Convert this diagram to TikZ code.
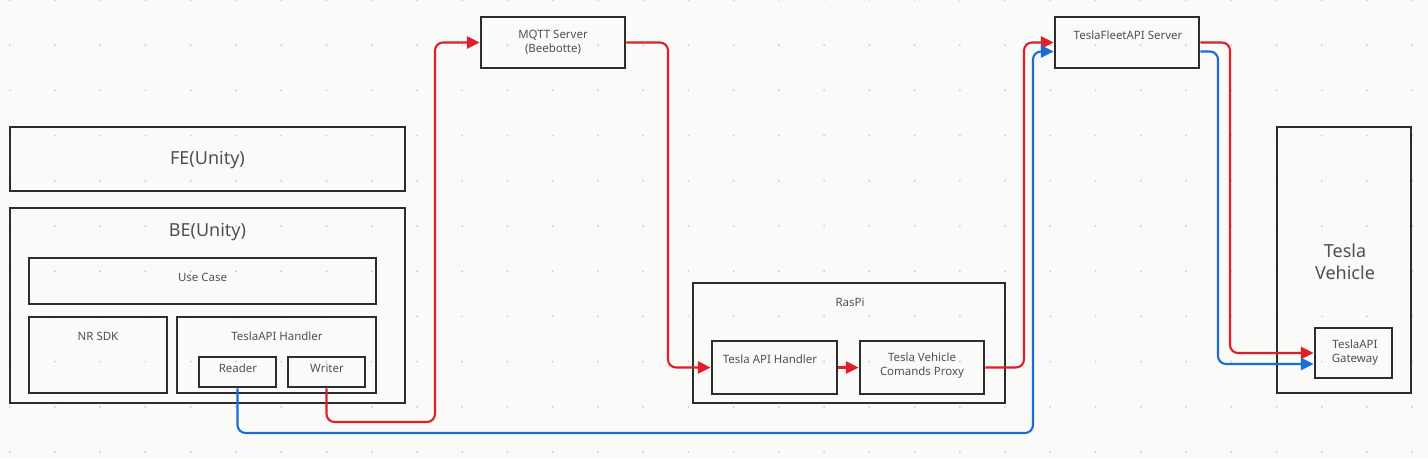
\documentclass[tikz,border=0pt]{standalone}
\usepackage{fontspec}
\setmainfont{Noto Sans}
\usepackage{tikz}
\usetikzlibrary{arrows.meta,calc}

\definecolor{bgc}{RGB}{250,250,248}
\definecolor{dotc}{RGB}{208,208,206}
\definecolor{edgec}{RGB}{45,45,45}
\definecolor{txtc}{RGB}{80,80,80}
\definecolor{redc}{RGB}{222,30,40}
\definecolor{bluec}{RGB}{28,108,214}

\def\px{0.75pt}

\tikzset{
  box/.style={draw=edgec, line width=2.1pt, inner sep=0pt},
  lbl/.style={text=txtc, font=\fontsize{8.6}{10.5}\selectfont, align=center, inner sep=0pt},
  biglbl/.style={text=txtc, font=\fontsize{13.5}{16.5}\selectfont, align=center, inner sep=0pt},
  redline/.style={draw=redc, line width=1.6pt, rounded corners=6pt, -{Triangle[length=9.5pt,width=9pt]}},
  blueline/.style={draw=bluec, line width=1.6pt, rounded corners=6pt, -{Triangle[length=9.5pt,width=9pt]}},
}

\begin{document}
\begin{tikzpicture}[x=0.75pt,y=0.75pt,yscale=-1,xscale=1]
\useasboundingbox[fill=bgc] (0,0) rectangle (1428,458);

%Dot grid
\foreach \i in {0,...,31}
  \foreach \j in {0,...,10}
    \fill[dotc] (9.8+45.24*\i,45.2*\j) circle (1.1);

%Shape: Rectangle [unity side]
\node[box, minimum width=395*\px, minimum height=64*\px] (fe) at (207.5,159) {};
\node[box, minimum width=395*\px, minimum height=195*\px] (be) at (207.5,305.5) {};
\node[box, minimum width=347*\px, minimum height=46*\px] (usecase) at (202.5,281) {};
\node[box, minimum width=138*\px, minimum height=76*\px] (nrsdk) at (98,355) {};
\node[box, minimum width=199*\px, minimum height=76*\px] (apihandler) at (276.5,355) {};
\node[box, minimum width=77*\px, minimum height=30*\px] (reader) at (237.5,372) {};
\node[box, minimum width=77*\px, minimum height=30*\px] (writer) at (326.5,372) {};

%Shape: Rectangle [servers]
\node[box, minimum width=144*\px, minimum height=51*\px] (mqtt) at (553,42.5) {};
\node[box, minimum width=144*\px, minimum height=51*\px] (fleet) at (1127,42.5) {};

%Shape: Rectangle [raspi]
\node[box, minimum width=312*\px, minimum height=120*\px] (raspi) at (849,343) {};
\node[box, minimum width=125*\px, minimum height=53*\px] (piapi) at (774.5,367.5) {};
\node[box, minimum width=124*\px, minimum height=53*\px] (proxy) at (922,367.5) {};

%Shape: Rectangle [vehicle]
\node[box, minimum width=134*\px, minimum height=266*\px] (vehicle) at (1344,260) {};
\node[box, minimum width=77*\px, minimum height=50*\px] (gateway) at (1353.5,353) {};

%Corner points
\coordinate (wturn) at (435,422);
\coordinate (mturn) at (668,200);
\coordinate (pturn) at (1024,200);
\coordinate (fturn) at (1230,200);
\coordinate (rturn) at (1033,433);
\coordinate (bturn) at (1218,200);

%Red lines
\draw[redline] (writer.south) |- (wturn) |- (mqtt.west);
\draw[redline] (mqtt.east) -| (mturn) |- (piapi.west);
\draw[redline] (piapi.east) -- (proxy.west);
\draw[redline] (proxy.east) -| (pturn) |- (fleet.west);
\draw[redline] (fleet.east) -| (fturn) |- (gateway.west);

%Blue lines
\draw[blueline] (reader.south) |- (rturn) |- ($(fleet.west)+(0,9)$);
\draw[blueline] ($(fleet.east)+(0,9)$) -| (bturn) |- ($(gateway.west)+(0,11)$);

% Text Node
\node[biglbl] (felbl) at (207.5,160) {FE(Unity)};
\node[biglbl] (belbl) at (207.5,232) {BE(Unity)};
\node[lbl] (uclbl) at (202.5,277) {Use Case};
\node[lbl] (nrlbl) at (98,336) {NR SDK};
\node[lbl] (ahlbl) at (277,336) {TeslaAPI Handler};
\node[lbl] (rdlbl) at (238,368) {Reader};
\node[lbl] (wrlbl) at (327,368) {Writer};
\node[lbl] (mqlbl) at (553,42) {MQTT Server\\(Beebotte)};
\node[lbl] (rplbl) at (850,302) {RasPi};
\node[lbl] (palbl) at (770,359) {Tesla API Handler};
\node[lbl] (pxlbl) at (922,366) {Tesla Vehicle\\Comands Proxy};
\node[lbl] (fllbl) at (1128,35) {TeslaFleetAPI Server};
\node[biglbl] (vhlbl) at (1345,262) {Tesla\\Vehicle};
\node[lbl] (gwlbl) at (1355,353) {TeslaAPI\\Gateway};

\end{tikzpicture}
\end{document}
